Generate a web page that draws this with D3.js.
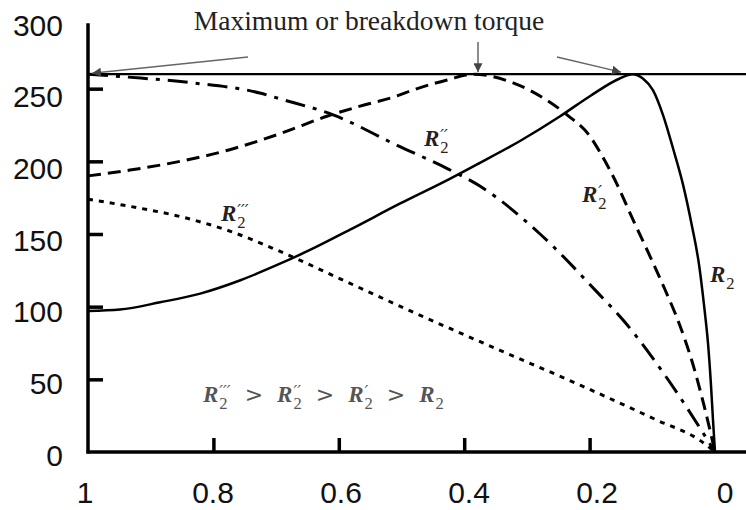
<!DOCTYPE html>
<html>
<head>
<meta charset="utf-8">
<script src="https://cdn.jsdelivr.net/npm/d3@7/dist/d3.min.js"></script>
<style>
  body { margin: 0; background: #fff; }
  svg { display: block; }
</style>
</head>
<body>
<svg id="chart" width="746" height="510"></svg>
<script>
// Slip (x) and torque (y) tick values
const slipTicks = [1, 0.8, 0.6, 0.4, 0.2, 0];
const torqueTicks = [0, 50, 100, 150, 200, 250, 300];
const maxTorque = 260;

// Torque–slip curves, [slip, torque], one per rotor resistance
const curveR2 = [
  [1.000, 97], [0.949, 98], [0.885, 103], [0.821, 109], [0.758, 118], [0.702, 128],
  [0.646, 139], [0.582, 153], [0.502, 171], [0.423, 188], [0.375, 199], [0.311, 214],
  [0.247, 231], [0.199, 245], [0.152, 257], [0.132, 260], [0.115, 257], [0.099, 249],
  [0.083, 232], [0.067, 209], [0.051, 184], [0.037, 156], [0.0255, 129], [0.0175, 101],
  [0.011, 74], [0.0064, 46], [0.0032, 22], [0, 0]
];
const curveR2p = [
  [1.000, 190], [0.933, 194], [0.853, 200], [0.774, 208], [0.694, 219], [0.619, 231],
  [0.566, 238], [0.507, 245], [0.482, 249], [0.427, 256], [0.386, 260], [0.322, 254],
  [0.268, 242], [0.236, 232], [0.199, 217], [0.183, 206], [0.156, 184], [0.131, 160],
  [0.104, 135], [0.080, 112], [0.056, 87], [0.035, 60], [0.0175, 32], [0, 0]
];
const curveR2pp = [
  [1.000, 260], [0.938, 258], [0.833, 254], [0.726, 247], [0.694, 243], [0.609, 232],
  [0.507, 211], [0.427, 195], [0.375, 183], [0.279, 150], [0.188, 110], [0.147, 91],
  [0.072, 48], [0, 0]
];
const curveR2ppp = [
  [1.000, 174], [0.933, 169], [0.853, 162], [0.774, 152], [0.699, 139], [0.582, 116],
  [0.470, 94], [0.343, 70], [0.215, 46], [0.093, 22], [0.024, 8], [0, 0]
];

const svg = d3.select("#chart");
const x = d3.scaleLinear().domain([1, 0]).range([88, 715]);
const y = d3.scaleLinear().domain([0, 300]).range([452, 16]);
// tick labels sit on a slightly wider spread than the ticks themselves
const xLabel = d3.scaleLinear().domain([1, 0]).range([85, 725]);
const yLabel = d3.scaleLinear().domain([0, 300]).range([455, 25]);

// Axes
const yAxisG = svg.append("g").attr("transform", `translate(${x(1)},0)`)
  .call(d3.axisRight(y).tickValues([50, 100, 150, 200, 250]).tickSize(15).tickFormat(""));
const xAxisG = svg.append("g").attr("transform", `translate(0,${y(0)})`)
  .call(d3.axisTop(x).tickValues([0.8, 0.6, 0.4, 0.2]).tickSize(14).tickFormat(""));
[yAxisG, xAxisG].forEach(g => {
  g.select(".domain").remove();
  g.selectAll(".tick line").attr("stroke", "#000").attr("stroke-width", 3.5);
});
svg.append("line").attr("x1", x(1)).attr("x2", x(1)).attr("y1", y(0) + 1.5).attr("y2", y(295))
  .attr("stroke", "#000").attr("stroke-width", 3.5);
svg.append("line").attr("x1", x(1) - 1.5).attr("x2", 746).attr("y1", y(0)).attr("y2", y(0))
  .attr("stroke", "#000").attr("stroke-width", 3.5);

svg.append("g").selectAll("text").data(torqueTicks).join("text")
  .attr("x", 63).attr("y", d => yLabel(d)).attr("dy", "0.36em")
  .attr("text-anchor", "end")
  .attr("font-family", "Liberation Sans, Arial, sans-serif").attr("font-size", 30)
  .attr("fill", "#111").text(d => d);
svg.append("g").selectAll("text").data(slipTicks).join("text")
  .attr("x", d => xLabel(d)).attr("y", 492).attr("dy", "0.36em")
  .attr("text-anchor", "middle")
  .attr("font-family", "Liberation Sans, Arial, sans-serif").attr("font-size", 30)
  .attr("fill", "#111").text(d => d);

// Breakdown torque level
svg.append("line").attr("x1", x(1)).attr("x2", 746).attr("y1", y(maxTorque)).attr("y2", y(maxTorque))
  .attr("stroke", "#000").attr("stroke-width", 2.2);

// Curves
const line = d3.line().x(d => x(d[0])).y(d => y(d[1])).curve(d3.curveMonotoneX);
const series = [
  { data: curveR2ppp, dash: "5,6", width: 3 },
  { data: curveR2pp, dash: "20,8,4,8", width: 3 },
  { data: curveR2p, dash: "13,7", width: 3 },
  { data: curveR2, dash: null, width: 2.5 }
];
svg.append("g").selectAll("path").data(series).join("path")
  .attr("d", d => line(d.data))
  .attr("fill", "none").attr("stroke", "#000")
  .attr("stroke-width", d => d.width)
  .attr("stroke-dasharray", d => d.dash);

// Title and arrows pointing at each curve's peak
svg.append("defs").append("marker")
  .attr("id", "head").attr("viewBox", "0 0 10 10").attr("refX", 10).attr("refY", 5)
  .attr("markerWidth", 9).attr("markerHeight", 9).attr("markerUnits", "userSpaceOnUse")
  .attr("orient", "auto")
  .append("path").attr("d", "M0,0 L10,5 L0,10 Z").attr("fill", "#444");

svg.append("text").attr("x", 369).attr("y", 30).attr("text-anchor", "middle")
  .attr("font-family", "Liberation Serif, Times New Roman, serif").attr("font-size", 27.5)
  .attr("fill", "#222").text("Maximum or breakdown torque");

const peakArrows = [
  { from: [248, 57], to: [x(1) + 4, y(maxTorque) - 1] },
  { from: [478, 42], to: [478, y(maxTorque) - 2] },
  { from: [557, 57], to: [621, y(maxTorque) - 2] }
];
svg.append("g").selectAll("line").data(peakArrows).join("line")
  .attr("x1", d => d.from[0]).attr("y1", d => d.from[1])
  .attr("x2", d => d.to[0]).attr("y2", d => d.to[1])
  .attr("stroke", "#666").attr("stroke-width", 1.5)
  .attr("marker-end", "url(#head)");

// Resistance labels: italic R, primes stacked over a subscript 2, all in one text element
const labelFont = "Liberation Serif, Times New Roman, serif";
function rTerm(t, primes, size, lead, weight) {
  t.append("tspan").attr("font-style", "italic").attr("font-weight", weight)
    .attr("font-size", size).attr("dx", lead).text("R");
  let back = 0;
  if (primes) {
    const p = t.append("tspan").attr("font-family", "DejaVu Sans, sans-serif")
      .attr("font-style", "italic").attr("font-size", size * 0.72)
      .attr("dx", 1).attr("dy", -size * 0.22).text(primes);
    back = p.node().getComputedTextLength();
  }
  const sub = t.append("tspan").attr("font-size", size * 0.72)
    .attr("dx", primes ? -back : 1)
    .attr("dy", primes ? size * 0.52 : size * 0.3).text("2");
  const subW = sub.node().getComputedTextLength();
  return { extra: Math.max(0, back - subW), shift: -size * 0.3 };
}
function rLabel(g, px, py, primes, size, color) {
  const t = g.append("text").attr("x", px).attr("y", py)
    .attr("font-family", labelFont).attr("fill", color);
  rTerm(t, primes, size, 0, "bold");
  return t;
}

const lab = svg.append("g");
rLabel(lab, 424, 146, "\u2032\u2032", 23, "#222");
rLabel(lab, 221, 221, "\u2032\u2032\u2032", 23, "#222");
rLabel(lab, 582, 202, "\u2032", 23, "#222");
rLabel(lab, 710, 282, "", 23, "#222");

// Ordering of the resistances, one line of text
const parts = ["\u2032\u2032\u2032", "\u2032\u2032", "\u2032", ""];
const order = svg.append("text").attr("x", 203).attr("y", 402)
  .attr("font-family", labelFont).attr("fill", "#555");
let lead = 0;
parts.forEach((p, i) => {
  const res = rTerm(order, p, 23, lead, "bold");
  if (i < parts.length - 1) {
    order.append("tspan").attr("font-family", "DejaVu Sans, sans-serif").attr("font-size", 22)
      .attr("dx", 14 + res.extra).attr("dy", res.shift).text(">");
    lead = 14;
  }
});
</script>
</body>
</html>
